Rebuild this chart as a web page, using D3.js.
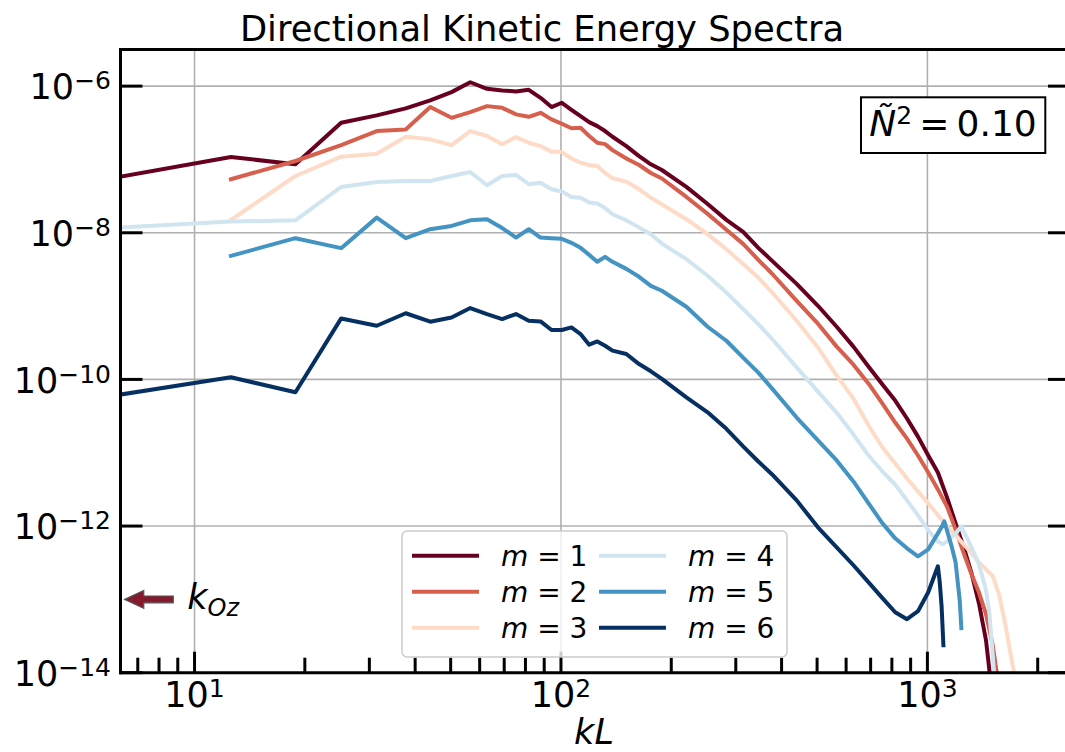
<!DOCTYPE html>
<html>
<head>
<meta charset="utf-8">
<script src="https://cdn.jsdelivr.net/npm/d3@7"></script>
<style>
  body { margin: 0; background: #fff; }
  svg { display: block; }
  text { font-family: "DejaVu Sans", sans-serif; fill: #000; }
</style>
</head>
<body>
<svg id="chart" width="1065" height="752"></svg>
<script>
// Wavenumbers kL (multiples of 2*pi) shared by every spectrum
const kL = [
  6.28, 12.57, 18.85, 25.13, 31.42, 37.70, 43.98, 50.27, 56.55, 62.83, 69.12,
  75.40, 81.68, 87.96, 94.25, 100.53, 106.81, 113.10, 119.38, 125.66, 131.95, 138.23,
  150.80, 163.36, 175.93, 188.50,
  219.91, 251.33, 282.74, 314.16, 345.58, 376.99,
  439.82, 502.65, 565.49, 628.32, 691.15, 753.98, 816.81, 879.65, 942.48, 1005.31,
  1068.14, 1080.71, 1093.27, 1099.56, 1105.84, 1112.12, 1130.97, 1162.39, 1193.81,
  1225.22, 1237.79, 1256.64, 1319.47, 1382.30, 1445.13, 1476.55, 1507.96, 1539.38,
  1570.80, 1633.63, 1696.46, 1759.29
];

// Directional kinetic energy spectra, one array per vertical mode m (null = no sample)
const spectrumM1 = [
  5.82e-8, 1.08e-7, 8.59e-8, 3.16e-7, 3.99e-7, 4.97e-7, 6.39e-7, 8.29e-7, 1.13e-6, 9.19e-7, 8.74e-7,
  8.47e-7, 8.90e-7, 6.93e-7, 5.18e-7, 5.93e-7, 4.76e-7, 3.90e-7, 3.23e-7, 2.85e-7, 2.44e-7, 2.04e-7,
  1.52e-7, 1.11e-7, 8.59e-8, 7.18e-8,
  4.22e-8, 2.47e-8, 1.50e-8, 1.03e-8, 6.23e-9, 4.14e-9,
  2.01e-9, 1.01e-9, 5.23e-10, 2.80e-10, 1.49e-10, 8.50e-11, 5.14e-11, 2.93e-11, 1.66e-11, 9.17e-12,
  5.38e-12, null, null, null, null, null, 2.46e-12, null, 1.09e-12,
  null, null, 5.13e-13, 2.27e-13, 8.86e-14, 2.78e-14, null, 4.23e-15, null,
  null, null, null, null
];
const spectrumM2 = [
  null, 5.37e-8, 9.53e-8, 1.57e-7, 2.44e-7, 2.57e-7, 5.18e-7, 3.70e-7, 4.43e-7, 5.34e-7, 5.06e-7,
  4.12e-7, 3.82e-7, 4.33e-7, 3.52e-7, 3.07e-7, 2.66e-7, 2.71e-7, 2.09e-7, 1.69e-7, 1.62e-7, 1.34e-7,
  1.03e-7, 8.40e-8, 6.54e-8, 5.50e-8,
  3.08e-8, 1.81e-8, 1.10e-8, 7.06e-9, 4.28e-9, 2.76e-9,
  1.18e-9, 5.75e-10, 2.80e-10, 1.59e-10, 8.76e-11, 4.68e-11, 2.58e-11, 1.56e-11, 9.17e-12, 5.38e-12,
  3.16e-12, null, null, null, null, null, 1.85e-12, null, 9.01e-13,
  null, null, 4.25e-13, 2.20e-13, 1.25e-13, 6.28e-14, null, 2.37e-14, null,
  5.79e-15, null, null, null
];
const spectrumM3 = [
  null, 1.50e-8, 5.95e-8, 1.09e-7, 1.20e-7, 2.04e-7, 1.88e-7, 1.57e-7, 2.44e-7, 2.09e-7, 1.61e-7,
  2.02e-7, 1.69e-7, 1.52e-7, 1.28e-7, 1.26e-7, 1.03e-7, 9.03e-8, 8.40e-8, 8.14e-8, 6.54e-8, 5.54e-8,
  4.98e-8, 3.92e-8, 3.01e-8, 2.45e-8,
  1.53e-8, 9.57e-9, 5.98e-9, 3.74e-9, 2.45e-9, 1.53e-9,
  6.32e-10, 2.73e-10, 1.13e-10, 5.48e-11, 2.35e-11, 1.18e-11, 7.14e-12, 4.46e-12, 2.97e-12, 2.04e-12,
  1.40e-12, null, null, null, null, null, 9.90e-13, null, 7.47e-13,
  null, null, 5.63e-13, 4.25e-13, 3.20e-13, 2.57e-13, null, 2.07e-13, null,
  1.14e-13, 4.44e-14, 1.53e-14, 5.79e-15
];
const spectrumM4 = [
  1.18e-8, 1.42e-8, 1.48e-8, 4.22e-8, 4.93e-8, 5.09e-8, 5.09e-8, 5.95e-8, 6.75e-8, 4.45e-8, 5.95e-8,
  6.14e-8, 4.59e-8, 4.82e-8, 3.92e-8, 3.66e-8, 3.08e-8, 3.01e-8, 2.58e-8, 2.50e-8, 2.18e-8, 1.79e-8,
  1.48e-8, 1.18e-8, 9.57e-9, 7.12e-9,
  4.37e-9, 2.59e-9, 1.53e-9, 9.12e-10, 5.69e-10, 3.56e-10,
  1.46e-10, 6.82e-11, 3.53e-11, 1.77e-11, 9.17e-12, 5.55e-12, 3.69e-12, 2.24e-12, 1.40e-12, 8.74e-13,
  6.19e-13, null, null, 5.63e-13, null, null, 6.19e-13, 7.01e-13, 7.95e-13,
  9.30e-13, 9.90e-13, 8.47e-13, 5.13e-13, 3.01e-13, 1.33e-13, 6.48e-14, 1.74e-14, 4.23e-15,
  null, null, null, null
];
const spectrumM5 = [
  null, 4.85e-9, 8.44e-9, 6.17e-9, 1.61e-8, 8.44e-9, 1.12e-8, 1.24e-8, 1.48e-8, 1.53e-8, 1.16e-8,
  8.60e-9, 1.12e-8, 8.60e-9, 8.44e-9, 8.26e-9, 7.29e-9, 6.23e-9, 5.00e-9, 4.02e-9, 4.70e-9, 4.02e-9,
  3.22e-9, 2.51e-9, 1.89e-9, 1.62e-9,
  9.80e-10, 5.23e-10, 3.37e-10, 1.98e-10, 1.24e-10, 7.49e-11,
  3.02e-11, 1.47e-11, 7.84e-12, 4.06e-12, 2.04e-12, 1.09e-12, 6.80e-13, 4.97e-13, 3.87e-13, 4.81e-13,
  7.95e-13, null, null, 1.02e-12, null, 1.16e-12, 8.74e-13, 5.46e-13, 3.20e-13,
  9.73e-14, 4.05e-14, null, null, null, null, null, null, null,
  null, null, null, null
];
const spectrumM6 = [
  6.21e-11, 1.07e-10, 6.67e-11, 6.79e-10, 5.40e-10, 7.99e-10, 6.12e-10, 7.00e-10, 9.40e-10, 7.79e-10, 6.66e-10,
  7.79e-10, 6.32e-10, 6.18e-10, 4.72e-10, 4.72e-10, 5.12e-10, 4.16e-10, 2.98e-10, 3.30e-10, 2.88e-10, 2.47e-10,
  2.22e-10, 1.62e-10, 1.29e-10, 1.02e-10,
  5.70e-11, 3.56e-11, 2.12e-11, 1.22e-11, 7.60e-12, 5.06e-12,
  2.24e-12, 9.60e-13, 5.13e-13, 2.92e-13, 1.71e-13, 1.04e-13, 6.68e-14, 5.37e-14, 6.89e-14, 1.25e-13,
  2.83e-13, 1.71e-13, 8.07e-14, null, 2.37e-14, null, null, null, null,
  null, null, null, null, null, null, null, null, null,
  null, null, null, null
];

const modeLabels = ["1", "2", "3", "4", "5", "6"];
const modeColors = ["#67001f", "#d6604d", "#fddbc7", "#d1e5f0", "#4393c3", "#053061"];
const spectra = [spectrumM1, spectrumM2, spectrumM3, spectrumM4, spectrumM5, spectrumM6];

// Axis limits and labelled ticks
const xLimits = [6.28, 2450];
const yLimits = [1e-14, 3.16e-6];
const xMajorTicks = [10, 100, 1000];
const xMajorExponents = ["1", "2", "3"];
const yMajorTicks = [1e-6, 1e-8, 1e-10, 1e-12, 1e-14];
const yMajorExponents = ["\u22126", "\u22128", "\u221210", "\u221212", "\u221214"];

// Reference marker for k_Oz
const kOzLevel = 1e-13;
const kOzTip = 6.45;
const kOzTail = 8.75;
const kOzText = 9.55;

// ---------------------------------------------------------------
const box = { left: 120.5, right: 1070, top: 49.5, bottom: 672.7 };
const svg = d3.select("#chart");

const x = d3.scaleLog().domain(xLimits).range([box.left, box.right]);
const y = d3.scaleLog().domain(yLimits).range([box.bottom, box.top]);

svg.append("defs").append("clipPath").attr("id", "plot-clip")
  .append("rect")
  .attr("x", box.left).attr("y", box.top)
  .attr("width", box.right - box.left).attr("height", box.bottom - box.top);

// Grid on major ticks
const grid = svg.append("g").attr("stroke", "#b0b0b0").attr("stroke-width", 1.6);
grid.selectAll("line.gx").data(xMajorTicks).join("line").attr("class", "gx")
  .attr("x1", d => x(d)).attr("x2", d => x(d))
  .attr("y1", box.top).attr("y2", box.bottom);
grid.selectAll("line.gy").data(yMajorTicks).join("line").attr("class", "gy")
  .attr("x1", box.left).attr("x2", box.right)
  .attr("y1", d => y(d)).attr("y2", d => y(d));

// Spectra
const line = d3.line().x(d => x(d[0])).y(d => y(d[1]));
const lines = svg.append("g").attr("clip-path", "url(#plot-clip)");
spectra.forEach((vals, i) => {
  const pts = kL.map((k, j) => [k, vals[j]]).filter(p => p[1] != null);
  lines.append("path")
    .attr("d", line(pts))
    .attr("fill", "none")
    .attr("stroke", modeColors[i])
    .attr("stroke-width", 4)
    .attr("stroke-linejoin", "round")
    .attr("stroke-linecap", "square");
});

// Spines
const spines = svg.append("g").attr("stroke", "#000").attr("stroke-width", 3).attr("stroke-linecap", "square");
spines.append("line").attr("x1", box.left).attr("x2", box.right).attr("y1", box.top).attr("y2", box.top);
spines.append("line").attr("x1", box.left).attr("x2", box.right).attr("y1", box.bottom).attr("y2", box.bottom);
spines.append("line").attr("x1", box.left).attr("x2", box.left).attr("y1", box.top).attr("y2", box.bottom);
spines.append("line").attr("x1", box.right).attr("x2", box.right).attr("y1", box.top).attr("y2", box.bottom);

// Ticks (pointing into the axes)
const ticks = svg.append("g").attr("stroke", "#000").attr("stroke-width", 3);
ticks.selectAll("line.yl").data(yMajorTicks).join("line").attr("class", "yl")
  .attr("x1", box.left).attr("x2", box.left + 22)
  .attr("y1", d => y(d)).attr("y2", d => y(d));
ticks.selectAll("line.yr").data(yMajorTicks).join("line").attr("class", "yr")
  .attr("x1", box.right - 22).attr("x2", box.right)
  .attr("y1", d => y(d)).attr("y2", d => y(d));
const xMinorTicks = x.ticks().filter(t => !xMajorTicks.some(m => Math.abs(m - t) < 1e-9));
ticks.selectAll("line.xmaj").data(xMajorTicks).join("line").attr("class", "xmaj")
  .attr("x1", d => x(d)).attr("x2", d => x(d))
  .attr("y1", box.bottom).attr("y2", box.bottom - 21);
ticks.selectAll("line.xmin").data(xMinorTicks).join("line").attr("class", "xmin")
  .attr("x1", d => x(d)).attr("x2", d => x(d))
  .attr("y1", box.bottom).attr("y2", box.bottom - 15);

// Tick labels as powers of ten
const tickFont = 35, supFont = 25;
yMajorTicks.forEach((v, i) => {
  const t = svg.append("text")
    .attr("x", 111).attr("y", y(v) + 13.3)
    .attr("text-anchor", "end").attr("font-size", tickFont);
  t.append("tspan").text("10");
  t.append("tspan").attr("dy", -10).attr("font-size", supFont).text(yMajorExponents[i]);
});
xMajorTicks.forEach((v, i) => {
  const t = svg.append("text")
    .attr("x", x(v)).attr("y", 706.7)
    .attr("text-anchor", "middle").attr("font-size", tickFont);
  t.append("tspan").text("10");
  t.append("tspan").attr("dy", -10).attr("font-size", supFont).text(xMajorExponents[i]);
});

// Title and axis label
svg.append("text")
  .attr("x", 542).attr("y", 40.7)
  .attr("text-anchor", "middle").attr("font-size", 35.3)
  .text("Directional Kinetic Energy Spectra");
svg.append("text")
  .attr("x", 594).attr("y", 744)
  .attr("text-anchor", "middle").attr("font-size", 35).attr("font-style", "italic")
  .text("kL");

// Stratification annotation box
svg.append("rect")
  .attr("x", 861).attr("y", 97.3).attr("width", 184.3).attr("height", 55.7)
  .attr("fill", "#fff").attr("stroke", "#000").attr("stroke-width", 2);
const nText = svg.append("text")
  .attr("x", 953).attr("y", 136)
  .attr("text-anchor", "middle").attr("font-size", 36);
nText.append("tspan").attr("font-style", "italic").text("\u00D1");
nText.append("tspan").attr("dy", -12).attr("font-size", supFont).text("2");
nText.append("tspan").attr("dy", 12).text("\u2009=\u20090.10");

// k_Oz arrow pointing at the left edge
const ay = y(kOzLevel), ax0 = x(kOzTip), ax1 = x(kOzTail);
const headLen = 19, headHalf = 9, shaftHalf = 3.4;
svg.append("path")
  .attr("d", [
    "M", ax0, ay,
    "L", ax0 + headLen, ay - headHalf,
    "L", ax0 + headLen, ay - shaftHalf,
    "L", ax1, ay - shaftHalf,
    "L", ax1, ay + shaftHalf,
    "L", ax0 + headLen, ay + shaftHalf,
    "L", ax0 + headLen, ay + headHalf, "Z"].join(" "))
  .attr("fill", "#851a2c").attr("stroke", "#555").attr("stroke-width", 1.2);
const kText = svg.append("text")
  .attr("x", x(kOzText)).attr("y", ay + 9.5)
  .attr("font-size", 35).attr("font-style", "italic");
kText.append("tspan").text("k");
kText.append("tspan").attr("dy", 7).attr("font-size", 24).text("Oz");

// Legend (two columns)
const legend = svg.append("g");
legend.append("rect")
  .attr("x", 402).attr("y", 531).attr("width", 385).attr("height", 126)
  .attr("rx", 5).attr("ry", 5)
  .attr("fill", "#fff").attr("fill-opacity", 0.8)
  .attr("stroke", "#cccccc").attr("stroke-width", 1.5);
const colX = [412, 599];
const rowY = [555.7, 591.7, 627.7];
modeLabels.forEach((lab, i) => {
  const cx = colX[Math.floor(i / 3)], cy = rowY[i % 3];
  legend.append("line")
    .attr("x1", cx).attr("x2", cx + 67).attr("y1", cy).attr("y2", cy)
    .attr("stroke", modeColors[i]).attr("stroke-width", 4);
  const t = legend.append("text")
    .attr("x", cx + 89).attr("y", cy + 10.3).attr("font-size", 28);
  t.append("tspan").attr("font-style", "italic").text("m");
  t.append("tspan").text(" = " + lab);
});
</script>
</body>
</html>
